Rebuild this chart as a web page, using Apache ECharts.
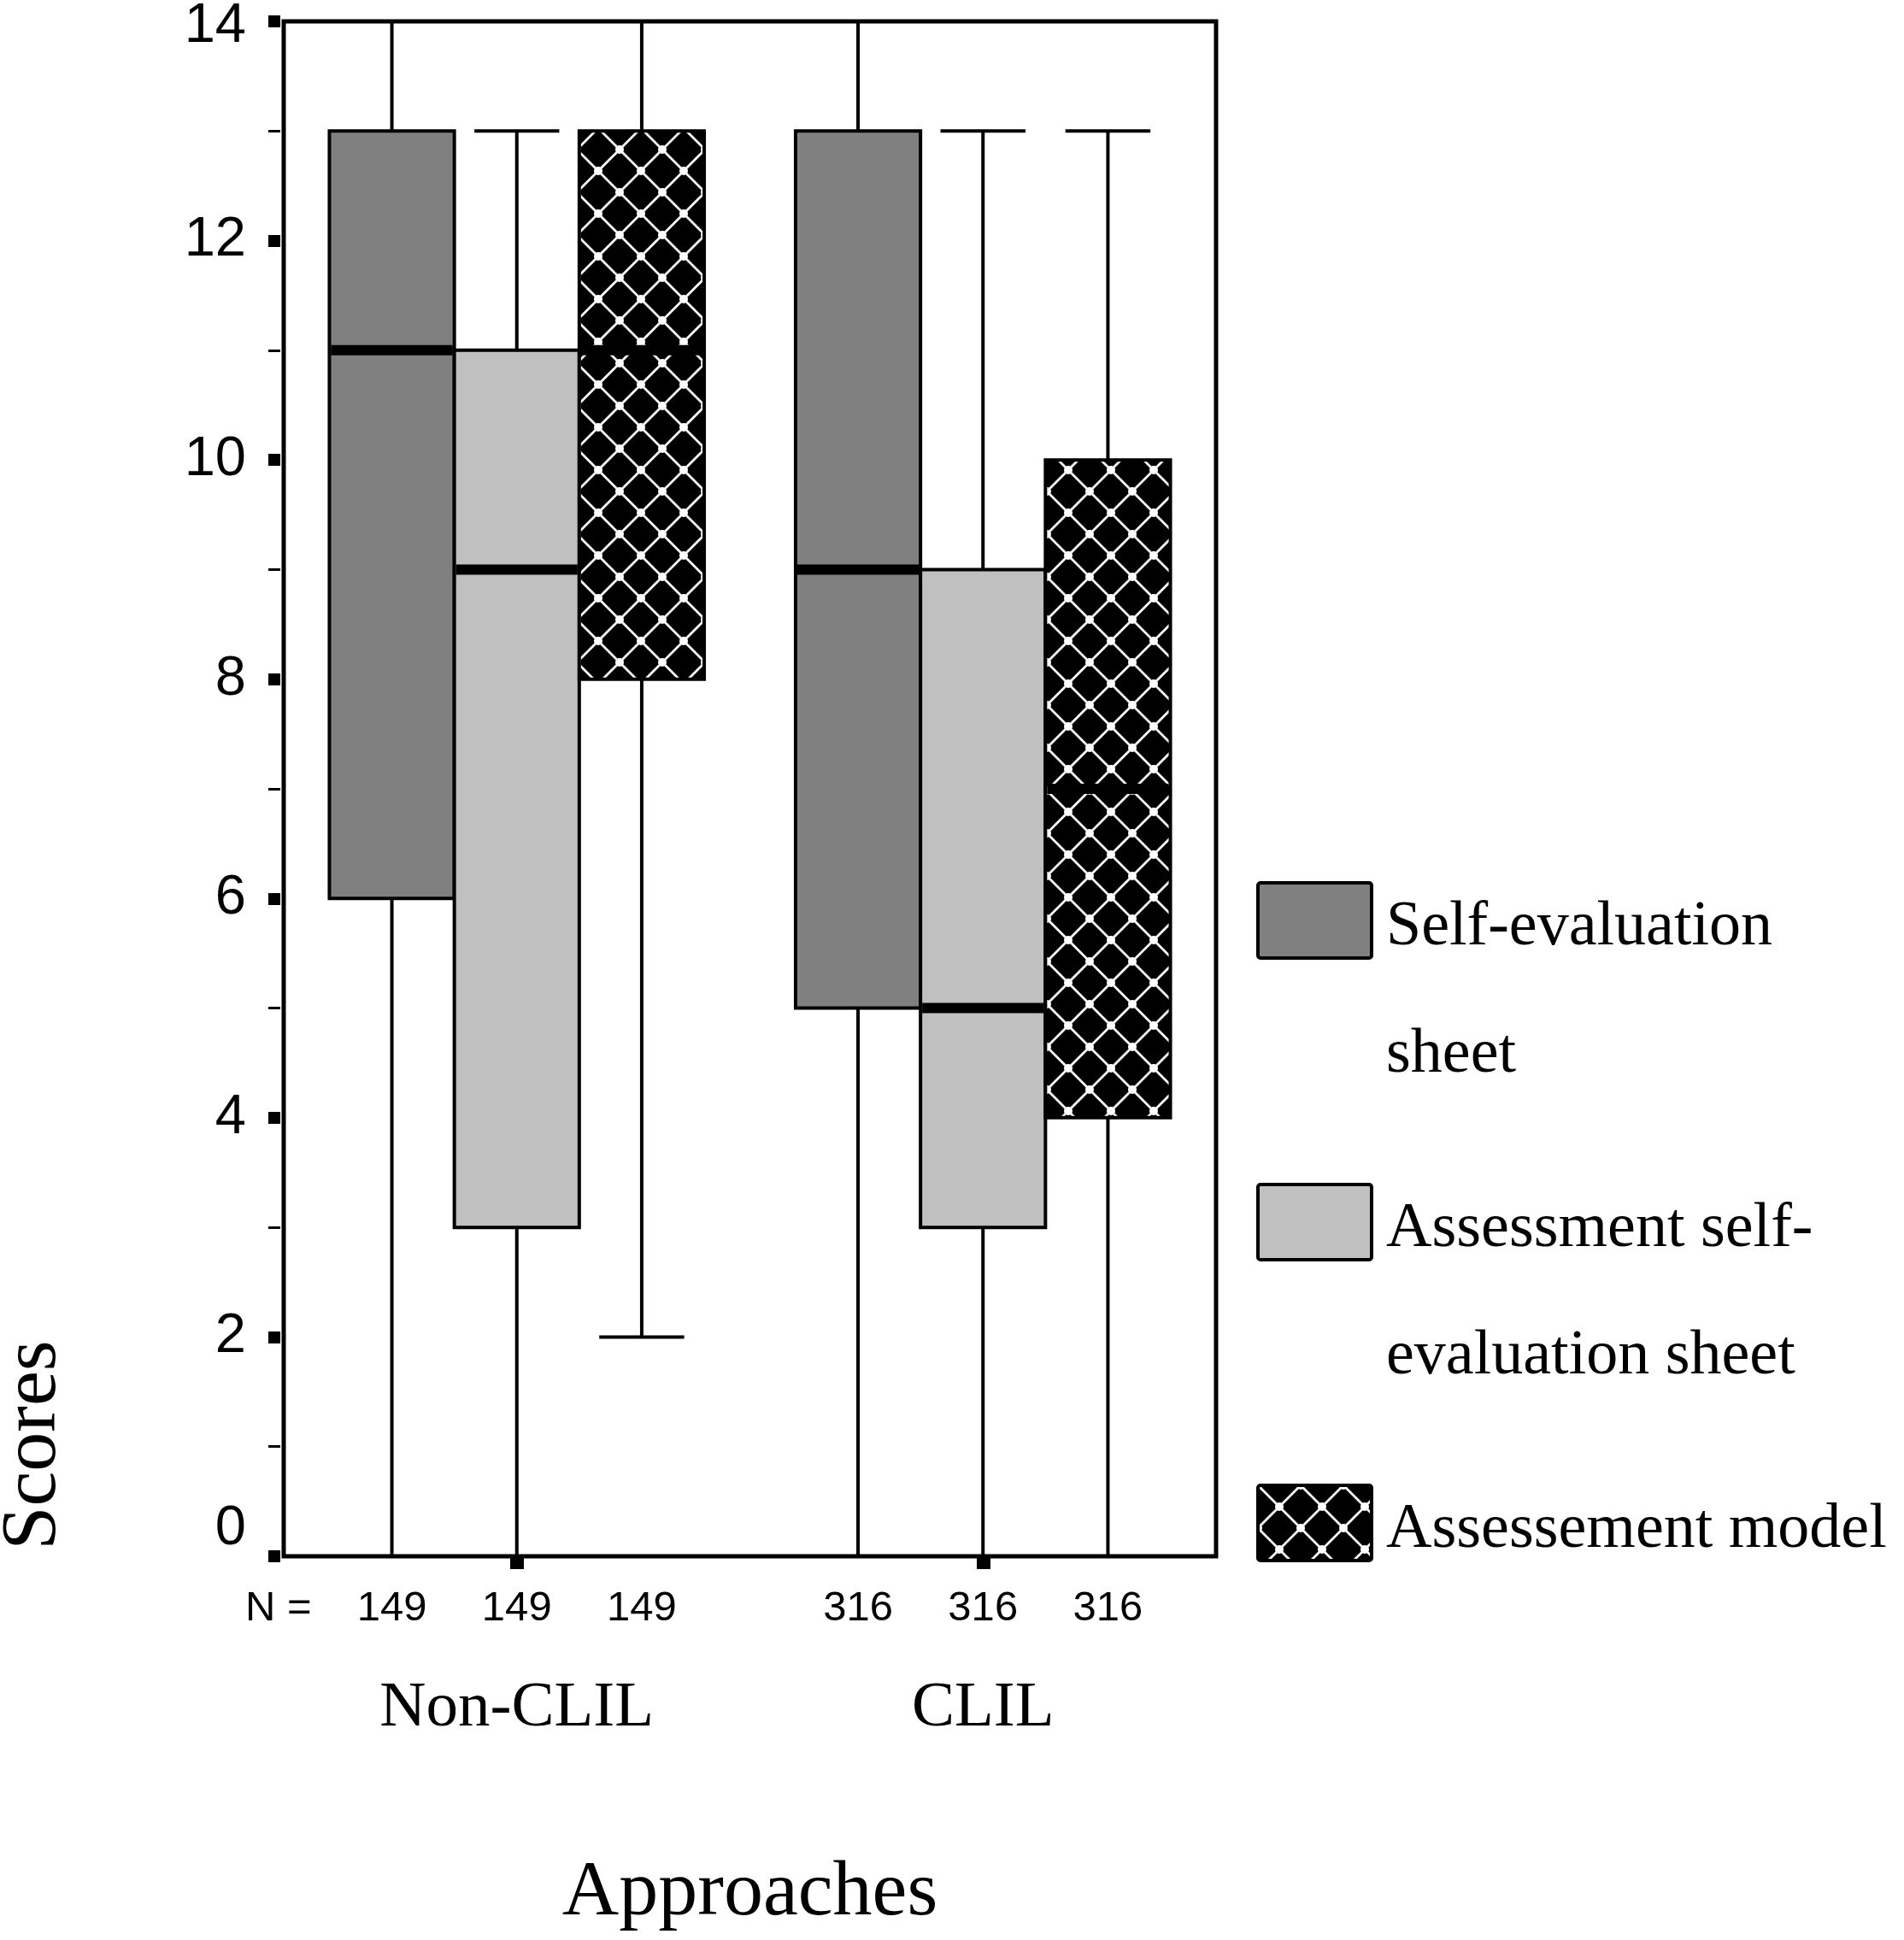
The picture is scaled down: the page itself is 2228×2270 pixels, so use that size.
<!DOCTYPE html>
<html>
<head>
<meta charset="utf-8">
<title>Scores by approach</title>
<script src="https://cdn.jsdelivr.net/npm/echarts@6/dist/echarts.min.js"></script>
<style>
  html, body { margin: 0; padding: 0; background: #fff; }
  #chart { width: 2228px; height: 2270px; }
</style>
</head>
<body>
<div id="chart"></div>
<script>
// data
const categories = ['Non-CLIL', 'CLIL'];
const sampleSizes = [149, 316];
const seriesNames = ['Self-evaluation sheet', 'Assessment self-evaluation sheet', 'Assessement model'];
const legendLines = ['Self-evaluation\nsheet', 'Assessment self-\nevaluation sheet', 'Assessement model'];
// [min, Q1, median, Q3, max] for Non-CLIL, CLIL
const selfEvaluation = [[0, 6, 11, 13, 14], [0, 5, 9, 13, 14]];
const assessmentSelfEvaluation = [[0, 3, 9, 11, 13], [0, 3, 5, 9, 13]];
const assessmentModel = [[2, 8, 11, 13, 14], [0, 4, 7, 10, 13]];
const yTicks = [0, 2, 4, 6, 8, 10, 12, 14];

const SANS = '"Liberation Sans", Arial, sans-serif';
const SERIF = '"Liberation Serif", "Times New Roman", serif';
const BOX_RATIO = 0.268;   // box width as part of the category band
const CAP_RATIO = 0.68;    // whisker cap as part of the box width

// black cross-hatch with white lattice
function makeHatch() {
    const c = document.createElement('canvas');
    c.width = 50;
    c.height = 50;
    const ctx = c.getContext('2d');
    ctx.fillStyle = '#000';
    ctx.fillRect(0, 0, 50, 50);
    ctx.strokeStyle = '#fff';
    ctx.lineWidth = 2.8;
    ctx.beginPath();
    ctx.moveTo(0, 0); ctx.lineTo(50, 50);
    ctx.moveTo(50, 0); ctx.lineTo(0, 50);
    ctx.stroke();
    ctx.fillStyle = '#fff';
    [[0, 0], [50, 0], [0, 50], [50, 50], [25, 25]].forEach(function (p) {
        ctx.beginPath();
        ctx.arc(p[0], p[1], 5, 0, Math.PI * 2);
        ctx.fill();
    });
    return c;
}

const hatch = { image: makeHatch(), repeat: 'repeat' };
const fills = ['#808080', '#c0c0c0', hatch];
const seriesValues = [selfEvaluation, assessmentSelfEvaluation, assessmentModel];

function renderBox(params, api) {
    const cat = api.value(0);
    const band = api.size([1, 0])[0];
    const w = band * BOX_RATIO;
    const base = api.coord([cat, 0]);
    const cx = base[0] + (params.seriesIndex - 1) * w;
    const y = function (i) { return api.coord([cat, api.value(i)])[1]; };
    const yMin = y(1), yQ1 = y(2), yMed = y(3), yQ3 = y(4), yMax = y(5);
    const half = w / 2;
    const cap = w * CAP_RATIO / 2;
    const line = { stroke: '#000', lineWidth: 4 };
    return {
        type: 'group',
        children: [
            { type: 'line', shape: { x1: cx, y1: yQ3, x2: cx, y2: yMax }, style: line },
            { type: 'line', shape: { x1: cx, y1: yQ1, x2: cx, y2: yMin }, style: line },
            { type: 'line', shape: { x1: cx - cap, y1: yMax, x2: cx + cap, y2: yMax }, style: line },
            { type: 'line', shape: { x1: cx - cap, y1: yMin, x2: cx + cap, y2: yMin }, style: line },
            {
                type: 'rect',
                shape: { x: cx - half, y: yQ3, width: w, height: yQ1 - yQ3 },
                style: { fill: fills[params.seriesIndex], stroke: '#000', lineWidth: 4 }
            },
            { type: 'line', shape: { x1: cx - half + 2, y1: yMed, x2: cx + half - 2, y2: yMed }, style: { stroke: '#000', lineWidth: 12 } },
            {
                type: 'text',
                style: {
                    text: String(api.value(6)), x: cx, y: base[1] + 61,
                    fill: '#000', fontSize: 49, fontFamily: SANS,
                    align: 'center', verticalAlign: 'middle'
                }
            }
        ]
    };
}

const series = seriesNames.map(function (name, k) {
    return {
        name: name,
        type: 'custom',
        renderItem: renderBox,
        clip: false,
        encode: { x: 0, y: [1, 2, 3, 4, 5] },
        data: categories.map(function (c, i) {
            return [i].concat(seriesValues[k][i], [sampleSizes[i]]);
        })
    };
});

// legend drawn by hand so swatches line up with the first text line
const legendTops = [1031, 1384, 1736];
const legendGraphics = [];
seriesNames.forEach(function (name, k) {
    legendGraphics.push({
        type: 'rect',
        left: 1470, top: legendTops[k],
        shape: { width: 133, height: 88, r: 3 },
        style: { fill: fills[k], stroke: '#000', lineWidth: 4 }
    });
    legendGraphics.push({
        type: 'text',
        x: 1622, y: legendTops[k] + 54 - 74,
        style: {
            text: legendLines[k], fill: '#000',
            fontSize: 74, fontFamily: SERIF, lineHeight: 149,
            align: 'left', verticalAlign: 'top'
        }
    });
});

const chart = echarts.init(document.getElementById('chart'));
chart.setOption({
    backgroundColor: '#fff',
    animation: false,
    grid: {
        left: 332, top: 25, width: 1091, height: 1796,
        show: true, borderColor: '#000', borderWidth: 5,
        containLabel: false, outerBoundsMode: 'none'
    },
    xAxis: {
        type: 'category',
        data: categories,
        axisLine: { show: false },
        axisTick: { show: true, alignWithLabel: true, length: 15, lineStyle: { color: '#000', width: 16 } },
        axisLabel: { color: '#000', fontFamily: SERIF, fontSize: 75, lineHeight: 75, margin: 141 },
        splitLine: { show: false },
        name: 'Approaches',
        nameLocation: 'middle',
        nameGap: 349,
        nameTextStyle: { color: '#000', fontFamily: SERIF, fontSize: 92, lineHeight: 92 }
    },
    yAxis: {
        type: 'value',
        min: yTicks[0],
        max: yTicks[yTicks.length - 1],
        interval: yTicks[1] - yTicks[0],
        offset: 4,
        axisLine: { show: false },
        axisTick: { show: true, length: 14, lineStyle: { color: '#000', width: 14 } },
        minorTick: { show: true, splitNumber: 2, length: 14, lineStyle: { color: '#000', width: 3 } },
        splitLine: { show: false },
        axisLabel: {
            color: '#000', fontFamily: SANS, fontSize: 65, margin: 40,
            formatter: function (v) {
                if (v === yTicks[0]) return '{low|' + v + '}';
                if (v === yTicks[yTicks.length - 1]) return '{high|' + v + '}';
                return String(v);
            },
            rich: {
                low: { color: '#000', fontFamily: SANS, fontSize: 65, padding: [0, 0, 64, 0] },
                high: { color: '#000', fontFamily: SANS, fontSize: 65, padding: [12, 0, 0, 0] }
            }
        }
    },
    graphic: legendGraphics.concat([
        {
            type: 'text',
            x: 287, y: 1882,
            style: { text: 'N =', fill: '#000', fontSize: 49, fontFamily: SANS, align: 'left', verticalAlign: 'middle' }
        },
        {
            type: 'text',
            x: 40, y: 1691, rotation: Math.PI / 2,
            style: { text: 'Scores', fill: '#000', fontSize: 92, fontFamily: SERIF, align: 'center', verticalAlign: 'middle' }
        }
    ]),
    series: series
});
</script>
</body>
</html>
